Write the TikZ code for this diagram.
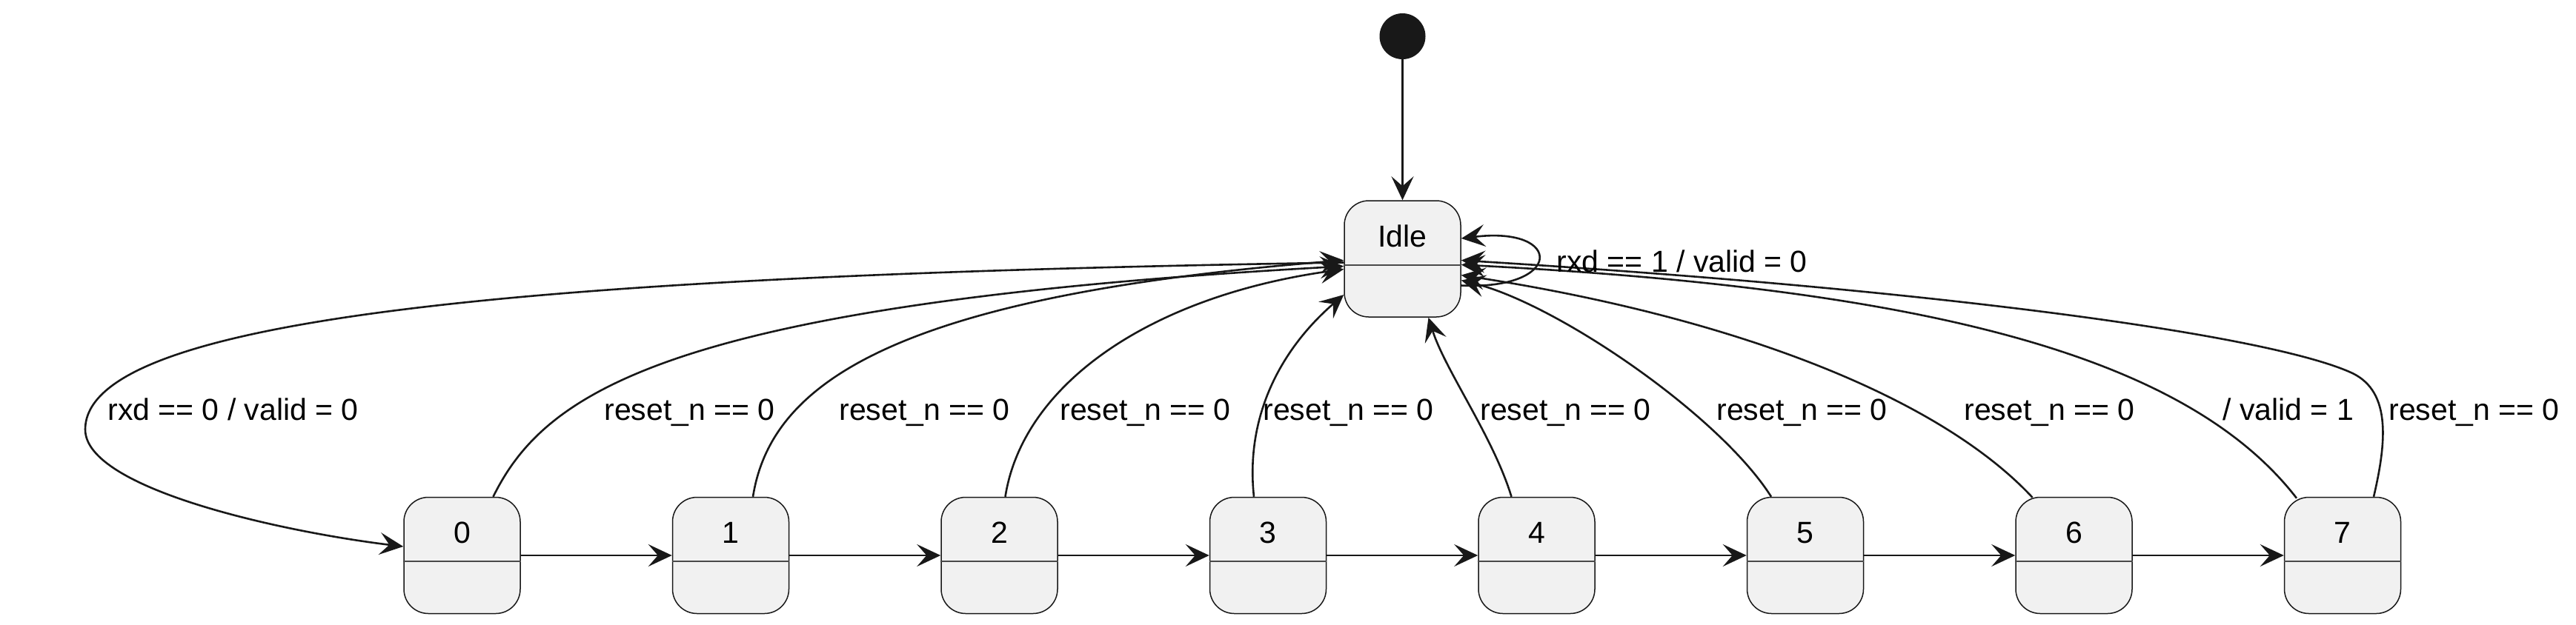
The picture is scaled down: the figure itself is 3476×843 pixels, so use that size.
\documentclass[tikz,border=0pt]{standalone}
\usepackage{fontspec}
\setmainfont{Liberation Sans}
\usetikzlibrary{arrows.meta,calc}
\definecolor{boxfill}{HTML}{F1F1F1}
\definecolor{ink}{HTML}{181818}
\definecolor{divline}{HTML}{4A4A4A}
\begin{document}
\begin{tikzpicture}[x=0.5pt,y=-0.5pt,
  state/.style={draw=ink, fill=boxfill, rounded corners=16.5pt, minimum width=78.5pt, minimum height=78.5pt, inner sep=0pt, line width=0.75pt},
  lbl/.style={anchor=base west, inner sep=0pt, font=\fontsize{20.5}{24}\selectfont, text=black},
  stxt/.style={anchor=base, inner sep=0pt, font=\fontsize{20.5}{24}\selectfont, text=black},
  arr/.style={draw=ink, line width=1.3pt, -{Stealth[length=16pt,width=15pt,inset=6.5pt]}},
  divider/.style={draw=divline, line width=0.75pt}]
\useasboundingbox (0,0) rectangle (3476,843);

% initial state
\node[circle, fill=ink, minimum size=31pt, inner sep=0pt] (start) at (1892.5,49) {};

% Idle
\node[state] (idle) at (1892.5,349.5) {};
\draw[divider] ($(idle.west)+(0,8.5)$) -- ($(idle.east)+(0,8.5)$);
\node[stxt] (idleT) at ($(idle.center)+(0,-16.5)$) {Idle};

% states 0..7
\foreach \i in {0,...,7}{
  \node[state] (n\i) at ({623.5+362.5*\i},750) {};
  \draw[divider] ($(n\i.west)+(0,8)$) -- ($(n\i.east)+(0,8)$);
  \node[stxt] (t\i) at ($(n\i.center)+(0,-17)$) {\i};
}

% initial transition
\draw[arr] (start.south) -- (idle.north);

% chain
\foreach \i/\j in {0/1,1/2,2/3,3/4,4/5,5/6,6/7}{
  \draw[arr] (n\i.east) -- (n\j.west);
}

% Idle -> 0
\coordinate (c0) at (115,580);
\draw[arr] ($(idle.west)+(0,5)$) .. controls (700,372) and (115,430) .. (c0)
  .. controls (115,660) and (380,718) .. ($(n0.west)+(0,-12)$);

% resets
\draw[arr] ($(n0.north)+(42,0)$) .. controls (735,530) and (900,410) .. ($(idle.west)+(0,10)$);
\draw[arr] ($(n1.north)+(30,0)$) .. controls (1040,520) and (1200,400) .. ($(idle.west)+(0,2)$);
\draw[arr] ($(n2.north)+(8,0)$) .. controls (1380,520) and (1550,400) .. ($(idle.west)+(0,14)$);
\draw[arr] ($(n3.north)+(-19,0)$) .. controls (1680,560) and (1730,470) .. ($(idle.west)+(0,48.5)$);
\draw[arr] ($(n4.north)+(-34,0)$) .. controls (2015,590) and (1950,500) .. ($(idle.south)+(35,0)$);
\draw[arr] ($(n5.north)+(-46,0)$) .. controls (2320,560) and (2100,410) .. ($(idle.east)+(0,29)$);
\draw[arr] ($(n6.north)+(-56,1)$) .. controls (2620,540) and (2350,430) .. ($(idle.east)+(0,22)$);
\draw[arr] ($(n7.north)+(-62,2)$) .. controls (2950,480) and (2600,390) .. ($(idle.east)+(0,8)$);
\coordinate (c7) at (3170,502);
\draw[arr] ($(n7.north)+(42,0)$) .. controls (3222,590) and (3225,525) .. (c7)
  .. controls (3050,450) and (2600,390) .. ($(idle.east)+(0,2)$);

% self loop
\draw[arr] ($(idle.east)+(0,36)$) .. controls (2110,392) and (2110,305) .. ($(idle.east)+(0,-27.5)$);

% labels
\node[lbl] (l0) at (2100,367) {rxd == 1 / valid = 0};
\node[lbl] (l1) at (145,567) {rxd == 0 / valid = 0};
\node[lbl] (r0) at (815,567) {reset\_n == 0};
\node[lbl] (r1) at (1132,567) {reset\_n == 0};
\node[lbl] (r2) at (1430,567) {reset\_n == 0};
\node[lbl] (r3) at (1704,567) {reset\_n == 0};
\node[lbl] (r4) at (1997,567) {reset\_n == 0};
\node[lbl] (r5) at (2316,567) {reset\_n == 0};
\node[lbl] (r6) at (2650,567) {reset\_n == 0};
\node[lbl] (v7) at (2999,567) {/ valid = 1};
\node[lbl] (r7) at (3223,567) {reset\_n == 0};
\end{tikzpicture}
\end{document}
